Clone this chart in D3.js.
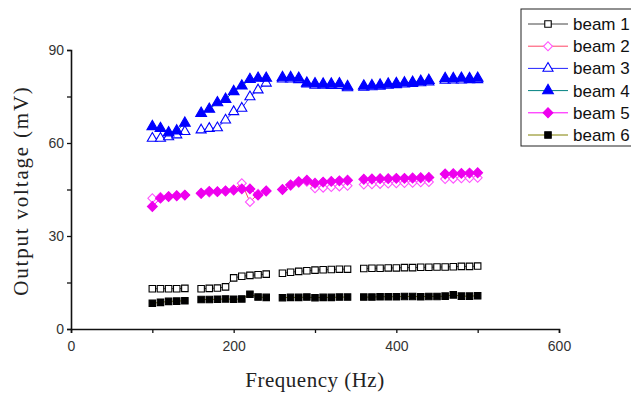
<!DOCTYPE html>
<html>
<head>
<meta charset="utf-8">
<script src="https://cdn.jsdelivr.net/npm/d3@7"></script>
<style>
  body { margin: 0; background: #fff; }
  svg { display: block; }
</style>
</head>
<body>
<svg id="chart" width="631" height="394"></svg>
<script>
// frequencies (Hz); null marks a break in the sweep
var freqs = [100, 110, 120, 130, 140, 150, 160, 170, 180, 190, 200, 210, 220, 230, 240, 250,
    260, 270, 280, 290, 300, 310, 320, 330, 340, 350, 360, 370, 380, 390, 400, 410, 420, 430, 440, 450,
    460, 470, 480, 490, 500];

var beam1 = [13, 13, 13, 13, 13.1, null, 13, 13.1, 13.2, 13.6, 16.5, 17, 17.3, 17.5, 17.7, null,
    18, 18.3, 18.6, 18.8, 19, 19.1, 19.2, 19.3, 19.3, null,
    19.5, 19.6, 19.6, 19.7, 19.7, 19.8, 19.8, 19.9, 19.9, 20, 20, 20.1, 20.2, 20.2, 20.3];
var beam2 = [42.2, 42.6, 42.8, 43, 43.2, null, 43.6, 44, 44.3, 44.6, 45, 47, 41, 43.6, 44.6, null,
    45, 46.2, 47.2, 47.5, 45.4, 45.6, 45.8, 46, 46.2, null,
    46.6, 46.7, 46.8, 46.9, 47, 47.1, 47.2, 47.3, 47.4, null, 48.4, 48.5, 48.6, 48.7, 48.8];
var beam3 = [61.5, 61.5, 62, 62.6, 63.7, null, 64.2, 64.7, 64.9, 67.4, 70.1, 71.2, 74.9, 77.1, 79.3, null,
    80.6, 80.6, 80.4, 79, 78.6, 78.6, 78.5, 78.5, 77.8, null,
    78, 78.1, 78.3, 78.6, 78.8, 79, 79.2, 79.4, 79.7, null, 80.2, 80.3, 80.3, 80.4, 80.4];
var beam4 = [65.3, 64.7, 63.3, 63.9, 66.4, null, 69.6, 70.9, 73, 74.1, 76.6, 78.4, 80.5, 80.9, 80.9, null,
    81.1, 81.1, 80.9, 79.3, 79.1, 79, 79, 79.1, 78.2, null,
    78.4, 78.5, 78.7, 79, 79.2, 79.4, 79.6, 79.9, 80.2, null, 80.8, 80.8, 80.9, 80.8, 80.9];
var beam5 = [39.5, 42.2, 42.7, 43, 43.2, null, 43.8, 44.4, 44.3, 44.5, 44.8, 45.2, 45.2, 43.2, 44.5, null,
    45, 46.5, 47.5, 48, 47, 47.4, 47.6, 47.8, 48, null,
    48.3, 48.4, 48.5, 48.5, 48.6, 48.6, 48.7, 48.8, 48.9, null, 50, 50.1, 50.2, 50.3, 50.4];
var beam6 = [8.3, 8.6, 8.9, 9, 9.1, null, 9.5, 9.5, 9.6, 9.7, 9.6, 9.7, 11.2, 10.3, 10.2, null,
    10.1, 10.2, 10.2, 10.3, 10.1, 10.2, 10.2, 10.3, 10.3, null,
    10.3, 10.3, 10.4, 10.4, 10.4, 10.5, 10.5, 10.4, 10.5, 10.5, 10.6, 11, 10.6, 10.6, 10.7];

var seriesNames = ["beam 1", "beam 2", "beam 3", "beam 4", "beam 5", "beam 6"];
var xTicks = [0, 200, 400, 600];
var yTicks = [0, 30, 60, 90];

var styles = [
    { values: beam1, line: "#444", shape: d3.symbolSquare, size: 42, fill: "#fff", stroke: "#000", rot: 0 },
    { values: beam2, line: "#ff4466", shape: d3.symbolSquare, size: 40, fill: "#fff", stroke: "#ff55ff", rot: 45 },
    { values: beam3, line: "#2222ff", shape: d3.symbolTriangle, size: 44, fill: "#fff", stroke: "#0000ff", rot: 0 },
    { values: beam4, line: "#008080", shape: d3.symbolTriangle, size: 50, fill: "#0000ff", stroke: "#0000ff", rot: 0 },
    { values: beam5, line: "#ff00ff", shape: d3.symbolSquare, size: 48, fill: "#ee00ee", stroke: "#ee00ee", rot: 45 },
    { values: beam6, line: "#808000", shape: d3.symbolSquare, size: 42, fill: "#000", stroke: "#000", rot: 0 }
];

var svg = d3.select("#chart");

var x = d3.scaleLinear().domain([0, 600]).range([71, 559]),
    y = d3.scaleLinear().domain([0, 90]).range([329, 50]);

// axes
var xAxis = svg.append("g").attr("transform", "translate(0,329)");
xAxis.call(d3.axisBottom(x).tickValues(d3.range(0, 601, 100)).tickSize(4).tickFormat(function (d) {
    return xTicks.indexOf(d) >= 0 ? d : "";
}));
var yAxis = svg.append("g").attr("transform", "translate(71,0)");
yAxis.call(d3.axisLeft(y).tickValues(d3.range(0, 91, 15)).tickSize(4).tickFormat(function (d) {
    return yTicks.indexOf(d) >= 0 ? d : "";
}));

[xAxis, yAxis].forEach(function (a) {
    a.select(".domain").attr("stroke", "#111").attr("stroke-width", 1.6);
    a.selectAll(".tick line").attr("stroke", "#111").attr("stroke-width", 1.3);
    a.selectAll(".tick text").attr("fill", "#333")
        .style("font-family", "'Liberation Sans', Arial, sans-serif").style("font-size", "14px");
});
xAxis.selectAll(".tick text").attr("dy", "1.1em");
yAxis.selectAll(".tick text").attr("x", -7);

svg.append("text")
    .attr("x", x(300)).attr("y", 387)
    .attr("text-anchor", "middle")
    .style("font-family", "'Liberation Serif', 'Times New Roman', serif").style("font-size", "21px")
    .style("letter-spacing", "0.5px")
    .attr("fill", "#222")
    .text("Frequency (Hz)");

svg.append("text")
    .attr("transform", "translate(28," + (y(45) + 1) + ") rotate(-90)")
    .attr("text-anchor", "middle")
    .style("font-family", "'Liberation Serif', 'Times New Roman', serif").style("font-size", "21px")
    .style("letter-spacing", "1.8px")
    .attr("fill", "#222")
    .text("Output voltage (mV)");

// series
var line = d3.line()
    .defined(function (d) { return d.v !== null; })
    .x(function (d) { return x(d.f); })
    .y(function (d) { return y(d.v); });

styles.forEach(function (s) {
    var pts = freqs.map(function (f, i) { return { f: f, v: s.values[i] }; });
    var g = svg.append("g");
    g.append("path")
        .attr("d", line(pts))
        .attr("fill", "none")
        .attr("stroke", s.line)
        .attr("stroke-width", 1);
    g.selectAll("path.pt")
        .data(pts.filter(function (d) { return d.v !== null; }))
        .enter().append("path")
        .attr("class", "pt")
        .attr("d", d3.symbol().type(s.shape).size(s.size))
        .attr("transform", function (d) {
            return "translate(" + x(d.f) + "," + y(d.v) + ") rotate(" + s.rot + ")";
        })
        .attr("fill", s.fill)
        .attr("stroke", s.stroke)
        .attr("stroke-width", 1.1);
});

// legend
var lg = svg.append("g");
lg.append("rect")
    .attr("x", 521).attr("y", 9).attr("width", 130).attr("height", 137)
    .attr("fill", "#fff").attr("stroke", "#222").attr("stroke-width", 1);

seriesNames.forEach(function (name, i) {
    var s = styles[i], ly = 24 + i * 22.2;
    lg.append("line")
        .attr("x1", 528).attr("x2", 568).attr("y1", ly).attr("y2", ly)
        .attr("stroke", s.line).attr("stroke-width", 1);
    lg.append("path")
        .attr("d", d3.symbol().type(s.shape).size(s.size))
        .attr("transform", "translate(548," + ly + ") rotate(" + s.rot + ")")
        .attr("fill", s.fill).attr("stroke", s.stroke).attr("stroke-width", 1.1);
    lg.append("text")
        .attr("x", 573).attr("y", ly + 6)
        .style("font-family", "'Liberation Sans', Arial, sans-serif").style("font-size", "17px")
        .attr("fill", "#111")
        .text(name);
});
</script>
</body>
</html>
